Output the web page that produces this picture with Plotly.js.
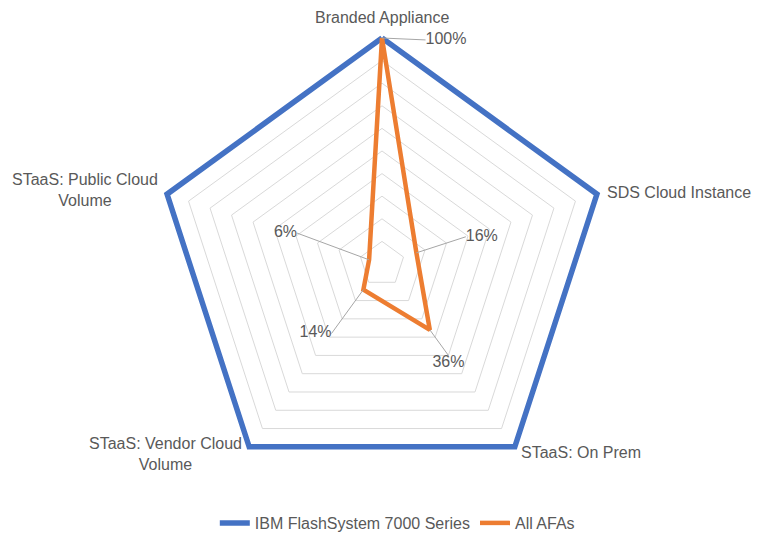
<!DOCTYPE html>
<html><head><meta charset="utf-8">
<script src="https://cdn.plot.ly/plotly-3.0.1.min.js"></script>
<style>html,body{margin:0;padding:0;background:#fff}</style>
</head><body><div id="chart" style="width:767px;height:540px"></div>
<script>
// ---- data ----
const categories = ["Branded Appliance", "SDS Cloud Instance", "STaaS: On Prem", "STaaS: Vendor Cloud Volume", "STaaS: Public Cloud Volume"];
const categoryLabels = ["Branded Appliance", "SDS Cloud Instance", "STaaS: On Prem", "STaaS: Vendor Cloud<br>Volume", "STaaS: Public Cloud<br>Volume"];
const seriesNames = ["IBM FlashSystem 7000 Series", "All AFAs"];
const ibmValues = [1.00, 1.00, 1.00, 1.00, 1.00];
const afaValues = [1.00, 0.16, 0.36, 0.14, 0.06];

// ---- geometry / style ----
const W = 767, H = 540;
const CX = 382, CY = 264, R = 226;
const OVER = 1.05; // extra radial room so full-scale lines are not clipped
const R2 = R * OVER;
const dom = {
  x: [(CX - R2) / W, (CX + R2) / W],
  y: [(H - CY - R2) / H, (H - CY + R2) / H]
};
const textColor = "#595959";
const fontFam = "Liberation Sans, Arial, Helvetica, sans-serif";
const blue = "#4472C4", orange = "#ED7D31";

// label leader positions (theta deg clockwise from top, radius fraction)
const leaderTheta = [11, 72, 144, 216, 290];
const leaderR = [1.01, 0.39, 0.50, 0.38, 0.40];
const leaderTextPos = ["middle right", "middle right", "bottom center", "middle left", "middle left"];

// category label placement offsets relative to each vertex
const catAnch = [
  {xa: "center", ya: "middle", xs: 0, ys: 21},
  {xa: "left", ya: "middle", xs: 8, ys: 2},
  {xa: "left", ya: "middle", xs: 4, ys: -6},
  {xa: "right", ya: "middle", xs: -5, ys: -7},
  {xa: "right", ya: "middle", xs: -7, ys: 4}
];

const close = a => a.concat([a[0]]);
const step = 360 / categories.length;

const traces = [
  {
    type: "scatterpolar", subplot: "polar", name: seriesNames[0],
    r: close(ibmValues), theta: close(categories), mode: "lines", cliponaxis: false,
    line: {color: blue, width: 5.5}, hoverinfo: "skip"
  },
  {
    type: "scatterpolar", subplot: "polar", name: seriesNames[1],
    r: close(afaValues), theta: close(categories), mode: "lines", cliponaxis: false,
    line: {color: orange, width: 4.5}, hoverinfo: "skip"
  }
];

afaValues.forEach((v, i) => {
  traces.push({
    type: "scatterpolar", subplot: "polar2", showlegend: false,
    r: [v, leaderR[i]], theta: [i * step, leaderTheta[i]],
    mode: "lines+text", text: ["", Math.round(v * 100) + "%"],
    textposition: ["middle center", leaderTextPos[i]],
    textfont: {family: fontFam, size: 16, color: textColor},
    line: {color: "#a6a6a6", width: 1}, hoverinfo: "skip", cliponaxis: false
  });
});

// category labels as annotations at vertex positions
const annotations = categoryLabels.map((t, i) => {
  const th = i * step * Math.PI / 180;
  const px = CX + R * Math.sin(th);
  const py = CY - R * Math.cos(th);
  const a = catAnch[i];
  return {
    text: t, xref: "paper", yref: "paper",
    x: px / W, y: (H - py) / H, xanchor: a.xa, yanchor: a.ya,
    xshift: a.xs, yshift: a.ys, showarrow: false, align: "center",
    font: {family: fontFam, size: 16, color: textColor}
  };
});

const layout = {
  width: W, height: H,
  margin: {l: 0, r: 0, t: 0, b: 0},
  paper_bgcolor: "#fff",
  font: {family: fontFam, size: 16, color: textColor},
  showlegend: true,
  legend: {orientation: "h", x: 0.518, xanchor: "center", y: 0.031, yanchor: "middle",
           font: {family: fontFam, size: 16, color: textColor}, itemwidth: 30},
  polar: {
    domain: dom, bgcolor: "rgba(0,0,0,0)", gridshape: "linear",
    radialaxis: {range: [0, OVER], dtick: 0.1, tick0: 0, showticklabels: false, ticks: "",
                 showline: false, gridcolor: "#d9d9d9", gridwidth: 1},
    angularaxis: {type: "category", direction: "clockwise", rotation: 90,
                  showgrid: false, showticklabels: false, ticks: "",
                  showline: false}
  },
  polar2: {
    domain: dom, bgcolor: "rgba(0,0,0,0)",
    radialaxis: {range: [0, OVER], visible: false},
    angularaxis: {type: "linear", direction: "clockwise", rotation: 90, visible: false}
  },
  annotations: annotations
};

Plotly.newPlot("chart", traces, layout, {displayModeBar: false, staticPlot: true});
</script>
</body></html>
